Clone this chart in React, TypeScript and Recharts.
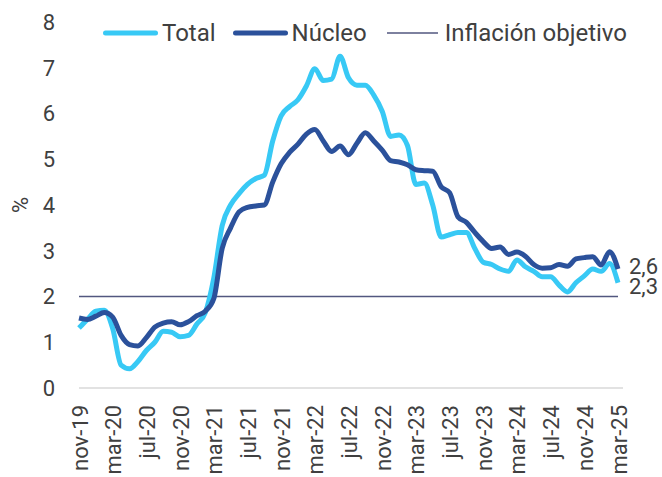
import React from 'react';
import { LineChart, Line, XAxis, YAxis, ReferenceLine, Legend, LabelList } from 'recharts';

const MONTHS = [
  'nov-19','dic-19',
  'ene-20','feb-20','mar-20','abr-20','may-20','jun-20','jul-20','ago-20','sep-20','oct-20','nov-20','dic-20',
  'ene-21','feb-21','mar-21','abr-21','may-21','jun-21','jul-21','ago-21','sep-21','oct-21','nov-21','dic-21',
  'ene-22','feb-22','mar-22','abr-22','may-22','jun-22','jul-22','ago-22','sep-22','oct-22','nov-22','dic-22',
  'ene-23','feb-23','mar-23','abr-23','may-23','jun-23','jul-23','ago-23','sep-23','oct-23','nov-23','dic-23',
  'ene-24','feb-24','mar-24','abr-24','may-24','jun-24','jul-24','ago-24','sep-24','oct-24','nov-24','dic-24',
  'ene-25','feb-25','mar-25',
];

const TOTAL = [
  1.31, 1.5, 1.68, 1.7, 1.3, 0.5, 0.42, 0.58, 0.82, 1.0,
  1.24, 1.22, 1.12, 1.15, 1.4, 1.65, 2.4, 3.55, 4.0, 4.25,
  4.45, 4.58, 4.65, 5.4, 5.95, 6.15, 6.3, 6.6, 6.98, 6.72,
  6.75, 7.25, 6.78, 6.62, 6.62, 6.4, 6.05, 5.5, 5.53, 5.3,
  4.45, 4.48, 4.0, 3.3, 3.35, 3.4, 3.4, 3.05, 2.75, 2.7,
  2.6, 2.55, 2.8, 2.65, 2.55, 2.43, 2.43, 2.25, 2.1, 2.3,
  2.45, 2.6, 2.55, 2.72, 2.3,
];

const NUCLEO = [
  1.53, 1.5, 1.57, 1.65, 1.55, 1.15, 0.95, 0.92, 1.1, 1.33,
  1.42, 1.45, 1.38, 1.45, 1.58, 1.68, 1.95, 3.05, 3.5, 3.85,
  3.95, 3.98, 4.0, 4.5, 4.9, 5.15, 5.33, 5.55, 5.65, 5.4,
  5.17, 5.29, 5.1, 5.35, 5.58, 5.4, 5.2, 4.97, 4.94, 4.88,
  4.77, 4.75, 4.74, 4.4, 4.27, 3.74, 3.62, 3.4, 3.2, 3.05,
  3.08, 2.92, 2.97, 2.88, 2.7, 2.62, 2.63, 2.7, 2.66, 2.82,
  2.85, 2.87, 2.69, 2.98, 2.6,
];

const Y_TICKS = [0, 1, 2, 3, 4, 5, 6, 7, 8];
const TARGET = 2;

const C_TOTAL = '#38C9F5';
const C_NUCLEO = '#2B519B';
const C_TARGET = '#52577F';
const TXT = '#404040';
const FONT = 'Roboto, "Noto Sans", sans-serif';

const data = MONTHS.map((m, i) => ({ month: m, total: TOTAL[i], nucleo: NUCLEO[i] }));
const LAST = MONTHS.length - 1;

const XTick = (props: any) => {
  const { x, y, payload } = props;
  const tx = x + 1;
  return (
    <text
      x={tx}
      y={y}
      transform={`rotate(-90 ${tx} ${y})`}
      textAnchor="end"
      dominantBaseline="central"
      fontSize={22}
      fontFamily={FONT}
      fill={TXT}
    >
      {payload.value}
    </text>
  );
};

const endLabel = (dy: number) => (props: any) => {
  const { x, y, value, index } = props;
  if (index !== LAST) return null;
  return (
    <text x={x + 11} y={y + dy} dominantBaseline="central" fontSize={22} fontFamily={FONT} fill={TXT}>
      {Number(value).toFixed(1).replace('.', ',')}
    </text>
  );
};

const LegendContent = () => (
  <div
    style={{
      display: 'flex',
      alignItems: 'center',
      height: 30,
      paddingLeft: 103,
      fontFamily: FONT,
      fontSize: 24,
      color: TXT,
      lineHeight: '30px',
      whiteSpace: 'nowrap',
    }}
  >
    <svg width={55} height={10} style={{ marginRight: 4 }}>
      <line x1={2.5} y1={5} x2={52.5} y2={5} stroke={C_TOTAL} strokeWidth={5} strokeLinecap="round" />
    </svg>
    <span style={{ marginRight: 17 }}>Total</span>
    <svg width={55} height={10} style={{ marginRight: 4 }}>
      <line x1={2.5} y1={5} x2={52.5} y2={5} stroke={C_NUCLEO} strokeWidth={5} strokeLinecap="round" />
    </svg>
    <span style={{ marginRight: 20 }}>Núcleo</span>
    <svg width={51} height={10} style={{ marginRight: 7 }}>
      <line x1={0} y1={5} x2={51} y2={5} stroke={C_TARGET} strokeWidth={1.3} />
    </svg>
    <span>Inflación objetivo</span>
  </div>
);

export default function App() {
  return (
    <div style={{ position: 'absolute', left: 0, top: 0, width: 662, height: 477, background: '#fff' }}>
      <LineChart width={662} height={477} data={data} margin={{ top: 22, right: 39, bottom: 0, left: 0 }}>
        <XAxis
          dataKey="month"
          interval={3}
          tick={<XTick />}
          tickLine={false}
          tickSize={0}
          tickMargin={17}
          height={89}
          axisLine={{ stroke: '#D9D9D9', strokeWidth: 1.5 }}
          padding={{ left: 0, right: 5 }}
        />
        <YAxis
          domain={[0, 8]}
          ticks={Y_TICKS}
          width={79}
          axisLine={false}
          tickLine={false}
          tickSize={0}
          tickMargin={24}
          tick={{ fontSize: 22, fill: TXT, fontFamily: FONT }}
          label={(p: any) => {
            const vb = p.viewBox || {};
            const cy = (vb.y ?? 22) + (vb.height ?? 366) / 2;
            return (
              <text
                x={20}
                y={cy}
                transform={`rotate(-90 20 ${cy})`}
                textAnchor="middle"
                dominantBaseline="central"
                fontSize={22}
                fontFamily={FONT}
                fill={TXT}
              >
                %
              </text>
            );
          }}
        />
        <Legend
          verticalAlign="middle"
          layout="horizontal"
          content={<LegendContent />}
          wrapperStyle={{ position: 'absolute', top: 18, left: 0, width: 662, height: 30 }}
        />
        <ReferenceLine
          segment={[{ x: MONTHS[0], y: TARGET }, { x: MONTHS[LAST], y: TARGET }]}
          stroke={C_TARGET}
          strokeWidth={1.3}
          ifOverflow="visible"
        />
        <Line
          type="monotone"
          dataKey="total"
          stroke={C_TOTAL}
          strokeWidth={5}
          dot={false}
          isAnimationActive={false}
        >
          <LabelList dataKey="total" content={endLabel(4)} />
        </Line>
        <Line
          type="monotone"
          dataKey="nucleo"
          stroke={C_NUCLEO}
          strokeWidth={5}
          dot={false}
          isAnimationActive={false}
        >
          <LabelList dataKey="nucleo" content={endLabel(-3)} />
        </Line>
      </LineChart>
    </div>
  );
}
